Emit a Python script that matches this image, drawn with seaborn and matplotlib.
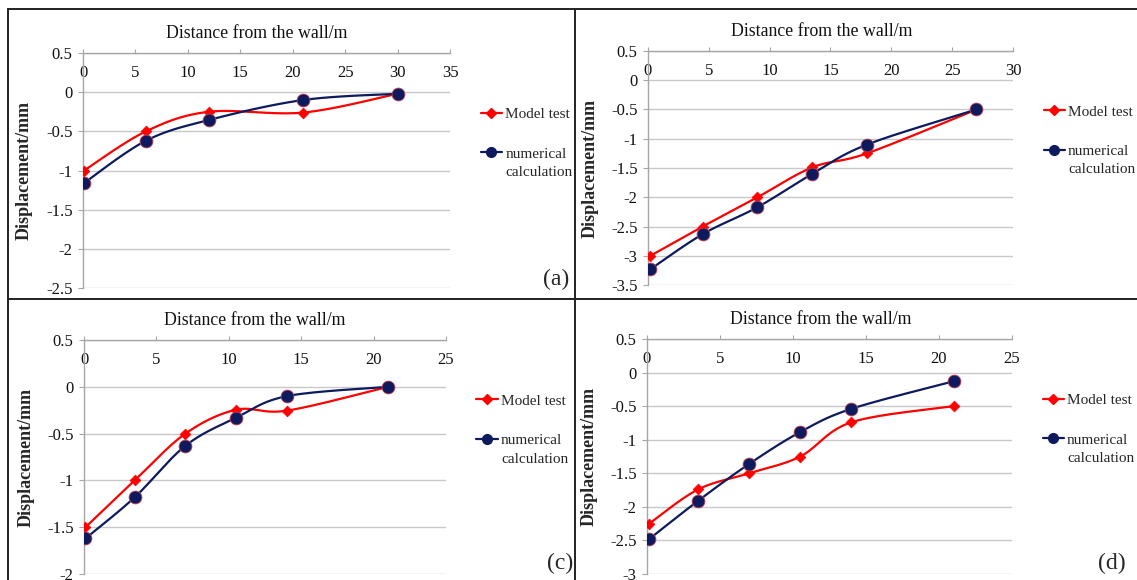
import numpy as np
import pandas as pd
import matplotlib.pyplot as plt
import seaborn as sns
from matplotlib.lines import Line2D

# panel (a)
x_a = [0.1, 6, 12, 21, 30]
model_a = [-1.0, -0.5, -0.25, -0.26, -0.02]
num_a = [-1.16, -0.62, -0.355, -0.1, -0.02]

# panel (b) - top right
x_b = [0.2, 4.5, 9, 13.5, 18, 27]
model_b = [-3.0, -2.5, -2.0, -1.49, -1.25, -0.5]
num_b = [-3.23, -2.63, -2.17, -1.6, -1.1, -0.5]

# panel (c)
x_c = [0.1, 3.5, 7, 10.5, 14, 21]
model_c = [-1.5, -1.0, -0.5, -0.245, -0.255, 0.0]
num_c = [-1.62, -1.18, -0.63, -0.33, -0.1, 0.0]

# panel (d)
x_d = [0.15, 3.5, 7, 10.5, 14, 21]
model_d = [-2.25, -1.74, -1.5, -1.25, -0.74, -0.5]
num_d = [-2.48, -1.91, -1.36, -0.885, -0.54, -0.13]

model_name = 'Model test'
num_name = ['numerical', 'calculation']
xlabel = 'Distance from the wall/m'
ylabel = 'Displacement/mm'

RED = '#ff0000'
NAVY = '#0d1b5e'

sns.set_theme(style='white')
plt.rcParams['font.family'] = ['Liberation Serif', 'DejaVu Serif']
plt.rcParams['axes.unicode_minus'] = False


def smooth(x, y, n=30):
    # excel-like smoothed line (bezier through the points)
    p = np.column_stack([x, y]).astype(float)
    q = np.vstack([p[0], p, p[-1]])
    out = []
    t = np.linspace(0, 1, n)[:, None]
    for i in range(len(p) - 1):
        p0, p1, p2, p3 = q[i], q[i + 1], q[i + 2], q[i + 3]
        c1 = p1 + (p2 - p0) / 6
        c2 = p2 - (p3 - p1) / 6
        seg = ((1 - t) ** 3) * p1 + 3 * ((1 - t) ** 2) * t * c1 + 3 * (1 - t) * t ** 2 * c2 + t ** 3 * p2
        out.append(seg if i == 0 else seg[1:])
    out = np.vstack(out)
    return pd.DataFrame({'x': out[:, 0], 'y': out[:, 1]})


fig = plt.figure(figsize=(11.37, 5.8), dpi=100)

panels = [
    # x, model, numerical, rect, ylim, xmax, letter, letter pos, title x
    (x_a, model_a, num_a, [0.0730, 0.5034, 0.3228, 0.4052], (-2.5, 0.5), 35, '(a)', (1.289, 0.038), 0.474),
    (x_b, model_b, num_b, [0.5699, 0.5086, 0.3210, 0.4035], (-3.5, 0.5), 30, '', None, 0.477),
    (x_c, model_c, num_c, [0.0739, 0.0103, 0.3184, 0.4035], (-2.0, 0.5), 25, '(c)', (1.315, 0.047), 0.472),
    (x_d, model_d, num_d, [0.5690, 0.0103, 0.3210, 0.4052], (-3.0, 0.5), 25, '(d)', (1.274, 0.047), 0.477),
]

for xs, mod, num, rect, ylim, xmax, letter, lpos, tx in panels:
    ax = fig.add_axes(rect)
    for vals, col in [(mod, RED), (num, NAVY)]:
        sm = smooth(xs, vals)
        sns.lineplot(data=sm, x='x', y='y', sort=False, estimator=None,
                     color=col, lw=1.6, ax=ax, zorder=3)
    sns.scatterplot(x=xs, y=mod, marker='D', s=30, color=RED, edgecolor=RED,
                    linewidth=0.5, ax=ax, zorder=4)
    sns.scatterplot(x=xs, y=num, marker='o', s=85, color=NAVY, edgecolor='#c04050',
                    linewidth=0.6, ax=ax, zorder=5)

    ax.set_xlim(0, xmax)
    ax.set_ylim(*ylim)
    ax.set_xticks(np.arange(0, xmax + 0.1, 5))
    ax.set_yticks(np.arange(ylim[0], ylim[1] + 0.01, 0.5))
    ax.yaxis.set_major_formatter(plt.FuncFormatter(lambda v, p: '{:g}'.format(round(v, 2))))
    ax.grid(axis='y', color='#c8c8c8', lw=1.0)
    ax.grid(axis='x', visible=False)
    for s in ['right', 'bottom']:
        ax.spines[s].set_visible(False)
    for s in ['top', 'left']:
        ax.spines[s].set_color('#a6a6a6')
        ax.spines[s].set_linewidth(1.0)
    ax.xaxis.set_ticks_position('top')
    ax.tick_params(axis='x', top=True, bottom=False, labeltop=True, labelbottom=False,
                   direction='out', length=3, width=0.8, color='#a6a6a6',
                   pad=-23, labelsize=12, labelcolor='#111111')
    ax.tick_params(axis='y', left=True, direction='out', length=3.5, width=0.8,
                   color='#a6a6a6', pad=4, labelsize=12, labelcolor='#111111')
    ax.set_xlabel('')
    ax.set_ylabel(ylabel, fontsize=13, fontweight='bold')
    ax.yaxis.set_label_coords(-0.136, 0.5)
    ax.text(tx, 1.085, xlabel, transform=ax.transAxes, ha='center', va='center',
            fontsize=12.8, color='#111111')

    # legend: one box for model test, one for the two-line numerical entry
    h_mod = Line2D([], [], color=RED, lw=1.6, marker='D', ms=5)
    h_num = Line2D([], [], color=NAVY, lw=1.6, marker='o', ms=7)
    h_blank = Line2D([], [], lw=0, alpha=0)
    leg1 = ax.legend([h_mod], [model_name], loc='center left', bbox_to_anchor=(1.063, 0.74),
                     frameon=False, fontsize=11, handlelength=1.4, handletextpad=0.2,
                     borderpad=0)
    ax.add_artist(leg1)
    ax.legend([h_num, h_blank], num_name, loc='center left', bbox_to_anchor=(1.063, 0.532),
              frameon=False, fontsize=11, handlelength=1.4, handletextpad=0.2,
              labelspacing=0.3, borderpad=0)
    if letter:
        ax.text(lpos[0], lpos[1], letter, transform=ax.transAxes, ha='center', va='center',
                fontsize=17)

# frame lines between the four panels
frame = dict(color='#222222', lw=1.4, transform=fig.transFigure)
fig.add_artist(Line2D([8 / 1137, 1], [1 - 9 / 580, 1 - 9 / 580], **frame))
fig.add_artist(Line2D([8 / 1137, 8 / 1137], [0, 1 - 9 / 580], **frame))
fig.add_artist(Line2D([575 / 1137, 575 / 1137], [0, 1 - 9 / 580], **frame))
fig.add_artist(Line2D([8 / 1137, 1], [1 - 299 / 580, 1 - 299 / 580], **frame))

fig.savefig('out.png', dpi=100)
